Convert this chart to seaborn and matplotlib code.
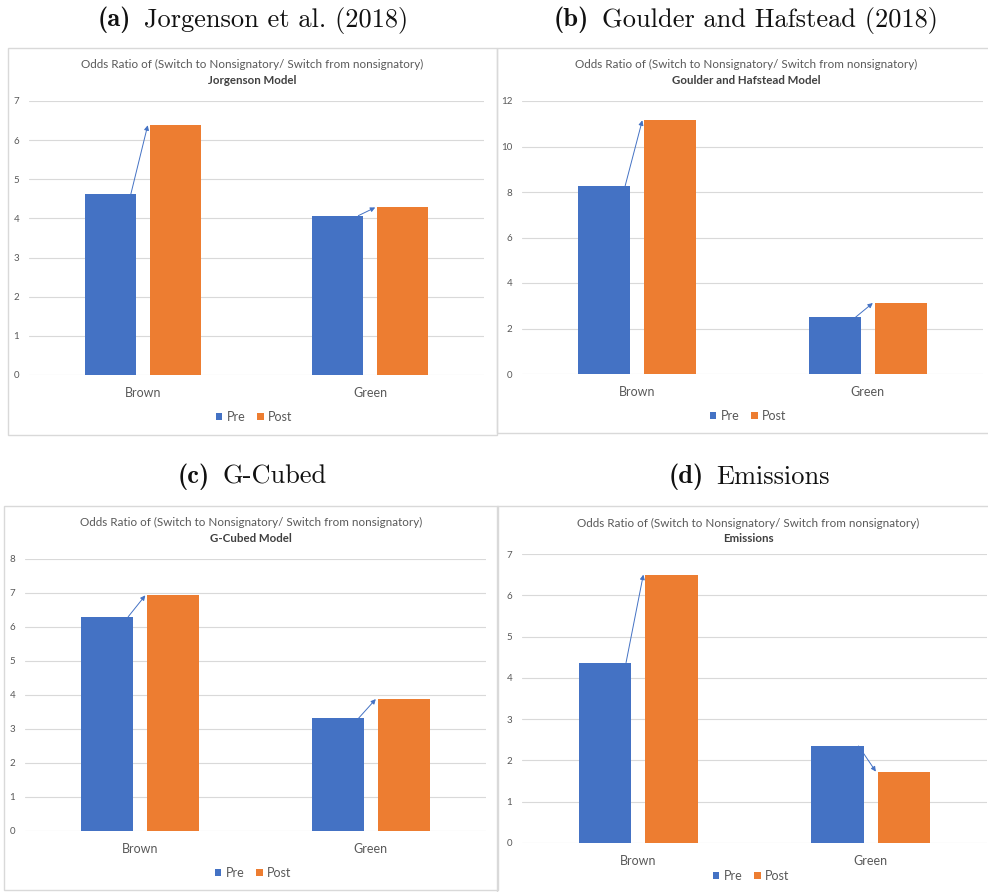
import numpy as np
import pandas as pd
import matplotlib
matplotlib.use("Agg")
import matplotlib.pyplot as plt
from matplotlib.patches import Rectangle
import seaborn as sns

# ---- data -------------------------------------------------------------
categories = ["Brown", "Green"]
periods = ["Pre", "Post"]

jorgenson_pre = [4.62, 4.07]
jorgenson_post = [6.38, 4.28]
goulder_pre = [8.27, 2.50]
goulder_post = [11.15, 3.12]
gcubed_pre = [6.30, 3.32]
gcubed_post = [6.93, 3.88]
emissions_pre = [4.37, 2.35]
emissions_post = [6.50, 1.73]

caption_tags = ["(a)", "(b)", "(c)", "(d)"]
caption_texts = ["Jorgenson et al. (2018)", "Goulder and Hafstead (2018)",
                 "G-Cubed", "Emissions"]
model_names = ["Jorgenson Model", "Goulder and Hafstead Model",
               "G-Cubed Model", "Emissions"]
chart_title = "Odds Ratio of (Switch to Nonsignatory/ Switch from nonsignatory)"
y_max = [7, 12, 8, 7]
y_step = [1, 2, 1, 1]

series = [(jorgenson_pre, jorgenson_post), (goulder_pre, goulder_post),
          (gcubed_pre, gcubed_post), (emissions_pre, emissions_post)]

# ---- style ------------------------------------------------------------
sns.set_style("white")
plt.rcParams["font.family"] = ["Lato", "DejaVu Sans"]

BLUE = "#4472C4"
ORANGE = "#ED7D31"
palette = {"Pre": BLUE, "Post": ORANGE}
GREY_TXT = "#595959"
GRID = "#D9D9D9"

W, H = 988, 892
fig = plt.figure(figsize=(W / 100, H / 100), dpi=100)
renderer = fig.canvas.get_renderer()


def fx(px):
    return px / W


def fy(py):
    return 1 - py / H


def caption(cx, cy, tag, text, size=19, gap_px=13):
    """Bold tag followed by roman text, centred as a whole at (cx, cy) px."""
    t1 = fig.text(0, fy(cy), tag, family="cmb10", fontsize=size,
                  ha="left", va="center", color="#111111")
    t2 = fig.text(0, fy(cy), text, family="cmr10", fontsize=size,
                  ha="left", va="center", color="#111111")
    w1 = t1.get_window_extent(renderer).width
    w2 = t2.get_window_extent(renderer).width
    left = cx - (w1 + gap_px + w2) / 2
    t1.set_x(fx(left))
    t2.set_x(fx(left + w1 + gap_px))


# pixel layout of each panel: border box, plot area, text anchors
panels = [
    dict(box=(8, 48, 497, 435), ax=(29, 101, 484, 375), cap=(253, 20),
         title=(252, 64), leg=(254, 417)),
    dict(box=(497, 48, 992, 433), ax=(522, 101, 983, 374), cap=(746, 20),
         title=(746, 64), leg=(748, 416)),
    dict(box=(4, 506, 498, 890), ax=(25, 559, 486, 831), cap=(252, 477),
         title=(251, 522), leg=(253, 873)),
    dict(box=(497, 506, 992, 896), ax=(522, 554, 987, 843), cap=(749, 477),
         title=(748, 523), leg=(751, 876)),
]

for i, p in enumerate(panels):
    bx0, by0, bx1, by1 = p["box"]
    fig.patches.append(Rectangle((fx(bx0), fy(by1)), fx(bx1 - bx0), (by1 - by0) / H,
                                 transform=fig.transFigure, fill=False,
                                 edgecolor=GRID, linewidth=1.0, zorder=0))

    cx, cy = p["cap"]
    caption(cx, cy, caption_tags[i], caption_texts[i])

    # chart titles
    tx, ty = p["title"]
    fig.text(fx(tx), fy(ty), chart_title, fontsize=8.4, color=GREY_TXT,
             ha="center", va="center")
    fig.text(fx(tx), fy(ty + 16), model_names[i], fontsize=8.3, color="#404040",
             fontweight="bold", ha="center", va="center")

    ax0, ay0, ax1, ay1 = p["ax"]
    ax = fig.add_axes([fx(ax0), fy(ay1), fx(ax1 - ax0), (ay1 - ay0) / H])

    pre, post = series[i]
    df = pd.DataFrame({
        "category": categories * 2,
        "period": ["Pre"] * len(categories) + ["Post"] * len(categories),
        "value": list(pre) + list(post),
    })
    sns.barplot(data=df, x="category", y="value", hue="period", hue_order=periods,
                order=categories, palette=palette, saturation=1, width=0.57,
                gap=0.21, linewidth=0, errorbar=None, ax=ax)

    ax.set_ylim(0, y_max[i])
    ax.set_yticks(np.arange(0, y_max[i] + y_step[i] / 2, y_step[i]))
    ax.set_xlim(-0.5, 1.5)
    ax.yaxis.grid(True, color=GRID, linewidth=0.8)
    ax.set_axisbelow(True)
    sns.despine(ax=ax, left=True, bottom=True, top=True, right=True)
    ax.set_xlabel("")
    ax.set_ylabel("")
    ax.tick_params(axis="y", length=0, pad=7, labelsize=7, labelcolor=GREY_TXT)
    ax.tick_params(axis="x", length=0, pad=8.5, labelsize=9, labelcolor=GREY_TXT)

    # arrows from each Pre bar top to the matching Post bar top
    pre_bars, post_bars = ax.containers[0], ax.containers[1]
    for b0, b1 in zip(pre_bars, post_bars):
        start = (b0.get_x() + b0.get_width() * 0.9, b0.get_height())
        end = (b1.get_x() - 0.008, b1.get_height())
        ax.annotate("", xy=end, xytext=start,
                    arrowprops=dict(arrowstyle="-|>", color=BLUE, lw=0.7,
                                    mutation_scale=7, shrinkA=0, shrinkB=0))

    old = ax.get_legend()
    handles = old.legend_handles
    labels = [t.get_text() for t in old.get_texts()]
    old.remove()
    lx, ly = p["leg"]
    ax.legend(handles, labels, loc="center", bbox_to_anchor=(fx(lx), fy(ly)),
              bbox_transform=fig.transFigure, ncol=2, frameon=False,
              fontsize=9, labelcolor=GREY_TXT, handlelength=0.55,
              handleheight=0.55, handletextpad=0.35, columnspacing=0.9)

fig.savefig("out.png", dpi=100, facecolor="white")
